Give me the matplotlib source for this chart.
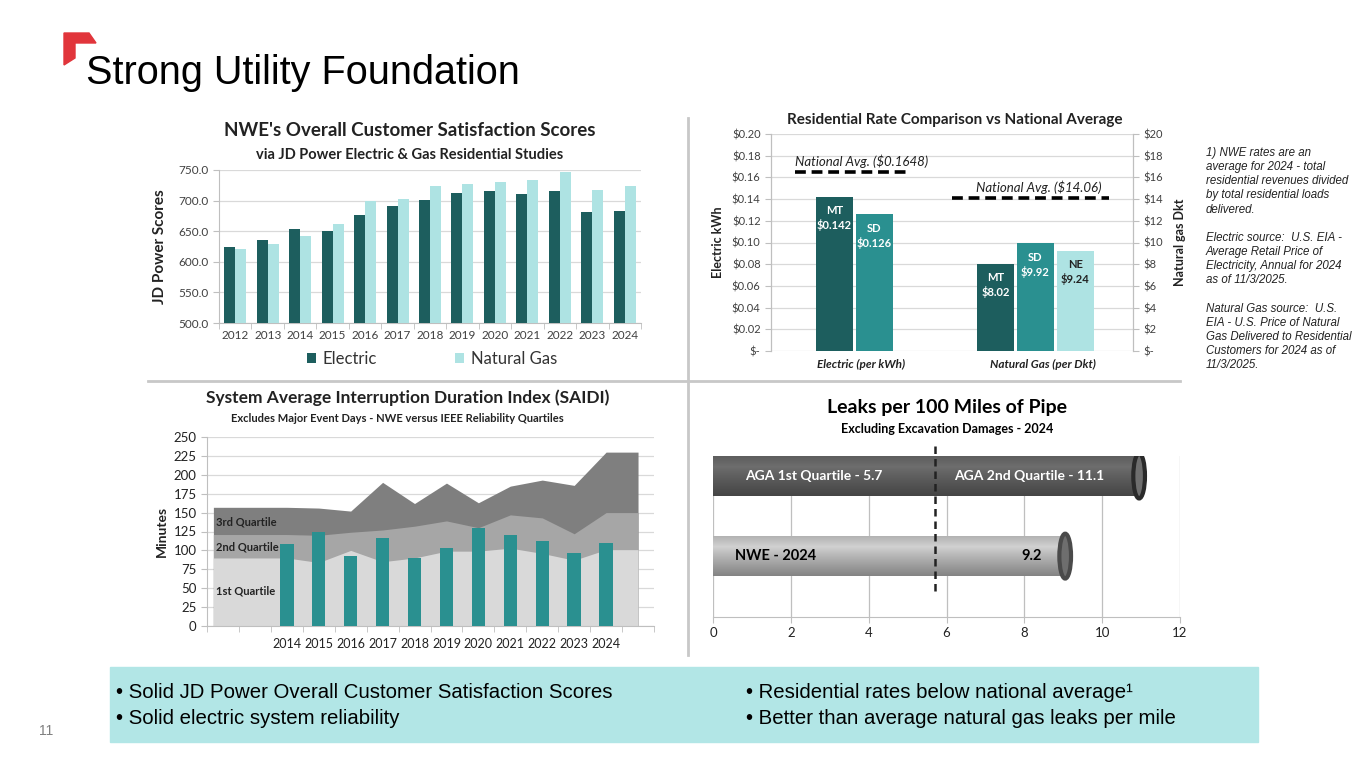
import numpy as np
import matplotlib
matplotlib.use('Agg')
import matplotlib.pyplot as plt
from matplotlib.patches import Ellipse, Polygon, Rectangle
from matplotlib.lines import Line2D
from matplotlib.ticker import FuncFormatter, MultipleLocator

W, H = 1365, 768

# customer satisfaction (JD Power)
cs_years = ['2012', '2013', '2014', '2015', '2016', '2017', '2018',
            '2019', '2020', '2021', '2022', '2023', '2024']
cs_electric = [625, 636, 654, 650, 677, 691, 701, 713, 715, 711, 716, 682, 683]
cs_gas = [621, 629, 642, 661, 700, 703, 724, 727, 730, 734, 747, 717, 724]

# residential rates
rate_cats = ['Electric (per kWh)', 'Natural Gas (per Dkt)']
elec_states = ['MT', 'SD']
elec_rates = [0.142, 0.126]
gas_states = ['MT', 'SD', 'NE']
gas_rates = [8.02, 9.92, 9.24]
nat_avg_elec = 0.1648
nat_avg_gas = 14.06

# SAIDI
saidi_labels = ['', '', '2014', '2015', '2016', '2017', '2018', '2019',
                '2020', '2021', '2022', '2023', '2024', '']
q1_top = [90, 90, 90, 84, 100, 85, 90, 99, 99, 103, 96, 87, 101, 101]
q2_top = [121, 121, 121, 120, 124, 127, 132, 139, 130, 147, 143, 122, 150, 150]
q3_top = [157, 157, 157, 156, 152, 190, 162, 189, 163, 185, 193, 186, 230, 230]
nwe_years = ['2014', '2015', '2016', '2017', '2018', '2019', '2020',
             '2021', '2022', '2023', '2024']
nwe_saidi = [109, 124, 93, 117, 90, 103, 129, 121, 112, 97, 110]

# leaks per 100 miles
leak_names = ['NWE - 2024', 'AGA 2nd Quartile - 11.1']
leak_values = [9.2, 11.1]
aga_q1 = 5.7

DARK = '#1d5e5e'
TEAL = '#2a9090'
LIGHT = '#aee3e3'
GRID = '#d9d9d9'
TXT = '#404040'

plt.rcParams['font.family'] = ['Lato', 'DejaVu Sans']
ARIAL = ['Liberation Sans', 'DejaVu Sans']


def box(l, t, r, b):
    return [l / W, 1 - b / H, (r - l) / W, (b - t) / H]


def ftext(x, y, s, **kw):
    fig.text(x / W, 1 - y / H, s, **kw)


fig = plt.figure(figsize=(W / 100, H / 100), dpi=100)

# ---- header ----
logo = Polygon([(64, 33), (89, 33), (96, 43), (75, 43), (75, 58), (64, 65)],
               closed=True, color='#e1353b')
logo.set_xy([(x / W, 1 - y / H) for x, y in logo.get_xy()])
logo.set_transform(fig.transFigure)
fig.patches.append(logo)
ftext(86, 73, 'Strong Utility Foundation', family=ARIAL, fontsize=28.5,
      va='center', ha='left', color='black')

# dividers
fig.add_artist(Line2D([688 / W, 688 / W], [1 - 118 / H, 1 - 655 / H],
                      transform=fig.transFigure, color='#c8c8c8', lw=2))
fig.add_artist(Line2D([148 / W, 1180 / W], [1 - 381 / H, 1 - 381 / H],
                      transform=fig.transFigure, color='#c8c8c8', lw=2))

# ---- customer satisfaction ----
ax1 = fig.add_axes(box(219, 170, 641, 323))
x = np.arange(len(cs_years))
bw = 0.34
ax1.bar(x - bw / 2, cs_electric, bw, color=DARK, label='Electric', zorder=3)
ax1.bar(x + bw / 2, cs_gas, bw, color=LIGHT, label='Natural Gas', zorder=3)
ax1.set_ylim(500, 750)
ax1.set_xlim(-0.5, len(cs_years) - 0.5)
ax1.yaxis.set_major_locator(MultipleLocator(50))
ax1.yaxis.set_major_formatter(FuncFormatter(lambda v, p: f'{v:.1f}'))
ax1.set_xticks(x)
ax1.set_xticklabels(cs_years)
ax1.set_xticks(np.arange(-0.5, len(cs_years), 1), minor=True)
ax1.tick_params(axis='x', which='major', length=0, labelsize=8.5, colors=TXT, pad=5)
ax1.tick_params(axis='x', which='minor', length=4, color='#bfbfbf')
ax1.tick_params(axis='y', length=4, color='#bfbfbf', labelsize=8.5, labelcolor=TXT)
ax1.grid(axis='y', color=GRID, lw=0.9, zorder=0)
for s in ['top', 'right']:
    ax1.spines[s].set_visible(False)
for s in ['left', 'bottom']:
    ax1.spines[s].set_color('#bfbfbf')
ax1.set_ylabel('JD Power Scores', fontsize=11, fontweight='bold', color='#222', labelpad=8)
ax1.set_facecolor('none')
fig.legend(*ax1.get_legend_handles_labels(), loc='center',
           bbox_to_anchor=(432 / W, 1 - 359 / H), ncol=2, frameon=False,
           fontsize=12, handlelength=0.55, handleheight=0.55, handletextpad=0.4,
           columnspacing=4.7, labelcolor='#333')
ftext(410, 130, "NWE's Overall Customer Satisfaction Scores", fontsize=13.5,
      fontweight='bold', ha='center', va='center', color='#222')
ftext(410, 155, 'via JD Power Electric & Gas Residential Studies', fontsize=10.5,
      fontweight='bold', ha='center', va='center', color='#222')

# ---- residential rates ----
ax2 = fig.add_axes(box(771, 134, 1133, 351))
ax2r = ax2.twinx()
slot = 0.22
shift = -0.04
for i, (st, v) in enumerate(zip(elec_states, elec_rates)):
    xc = 0 + shift + (i - (len(elec_rates) - 1) / 2) * slot
    ax2.bar(xc, v, 0.205, color=[DARK, TEAL][i], zorder=3)
    ax2.annotate(f'{st}\n${v:.3f}', (xc, v), xytext=(0, -6), textcoords='offset points',
                 ha='center', va='top', fontsize=8, fontweight='bold', color='white',
                 linespacing=1.3)
for i, (st, v) in enumerate(zip(gas_states, gas_rates)):
    xc = 1 + shift + (i - (len(gas_rates) - 1) / 2) * slot
    ax2r.bar(xc, v, 0.205, color=[DARK, TEAL, LIGHT][i], zorder=3)
    ax2r.annotate(f'{st}\n${v:.2f}', (xc, v), xytext=(0, -6), textcoords='offset points',
                  ha='center', va='top', fontsize=8, fontweight='bold',
                  color='#222' if i == 2 else 'white', linespacing=1.3)
ax2.set_xlim(-0.5, 1.5)
ax2.set_ylim(0, 0.20)
ax2r.set_ylim(0, 20)
ax2.yaxis.set_major_locator(MultipleLocator(0.02))
ax2r.yaxis.set_major_locator(MultipleLocator(2))
ax2.yaxis.set_major_formatter(FuncFormatter(lambda v, p: '$-' if abs(v) < 1e-9 else f'${v:.2f}'))
ax2r.yaxis.set_major_formatter(FuncFormatter(lambda v, p: '$-' if abs(v) < 1e-9 else f'${v:.0f}'))
ax2.set_xticks([0, 1])
ax2.set_xticklabels(rate_cats, fontsize=8.5, fontweight='bold', style='italic', color='#222')
ax2.tick_params(axis='x', length=0, pad=6)
ax2.tick_params(axis='y', length=4, color='#bfbfbf', labelsize=8, labelcolor=TXT)
ax2r.tick_params(axis='y', length=4, color='#bfbfbf', labelsize=8, labelcolor=TXT)
ax2.grid(axis='y', color=GRID, lw=0.9, zorder=0)
for a in (ax2, ax2r):
    a.spines['top'].set_visible(False)
    a.spines['bottom'].set_visible(False)
    a.spines['left'].set_color('#bfbfbf')
    a.spines['right'].set_color('#bfbfbf')
ax2.set_ylabel('Electric kWh', fontsize=9, fontweight='bold', color='#222', labelpad=6)
ax2r.set_ylabel('Natural gas Dkt', fontsize=9, fontweight='bold', color='#222', labelpad=8)
ax2.plot([-0.37, 0.27], [nat_avg_elec] * 2, color='black', lw=2.6, ls=(0, (3, 1.6)), zorder=4)
ax2.text(-0.37, nat_avg_elec + 0.004, 'National Avg. ($0.1648)', fontsize=9.5,
         style='italic', color='#222', va='bottom', ha='left')
ax2r.plot([0.50, 1.37], [nat_avg_gas] * 2, color='black', lw=2.6, ls=(0, (3, 1.6)), zorder=4)
ax2r.text(0.63, nat_avg_gas + 0.4, 'National Avg. ($14.06)', fontsize=9.5,
          style='italic', color='#222', va='bottom', ha='left')
ftext(955, 120, 'Residential Rate Comparison vs National Average', fontsize=11,
      fontweight='bold', ha='center', va='center', color='#222')

# footnote
note = ('1) NWE rates are an\naverage for 2024 - total\nresidential revenues divided\n'
        'by total residential loads\ndelivered.\n\nElectric source:  U.S. EIA -\n'
        'Average Retail Price of\nElectricity, Annual for 2024\nas of 11/3/2025.\n\n'
        'Natural Gas source:  U.S.\nEIA - U.S. Price of Natural\nGas Delivered to Residential\n'
        'Customers for 2024 as of\n11/3/2025.')
ftext(1206, 147, note, family=ARIAL, fontsize=8.3, style='italic', color='#222',
      va='top', ha='left', linespacing=1.24)

# ---- SAIDI ----
ax3 = fig.add_axes(box(207, 437, 654, 626))
xs = np.arange(len(saidi_labels)).astype(float)
xs[0] = -0.3
ax3.fill_between(xs, 0, q3_top, color='#7f7f7f', lw=0, zorder=1)
ax3.fill_between(xs, 0, q2_top, color='#a6a6a6', lw=0, zorder=1)
ax3.fill_between(xs, 0, q1_top, color='#d9d9d9', lw=0, zorder=1)
bx = [saidi_labels.index(y) for y in nwe_years]
ax3.bar(bx, nwe_saidi, 0.42, color=TEAL, zorder=3)
ax3.set_xlim(-0.5, len(saidi_labels) - 0.5)
ax3.set_ylim(0, 250)
ax3.yaxis.set_major_locator(MultipleLocator(25))
ax3.set_xticks(np.arange(len(saidi_labels)))
ax3.set_xticklabels(saidi_labels)
ax3.set_xticks(np.arange(-0.5, len(saidi_labels), 1), minor=True)
ax3.tick_params(axis='x', which='major', length=0, labelsize=9, colors='#222', pad=9)
ax3.tick_params(axis='x', which='minor', length=4, color='#bfbfbf')
ax3.tick_params(axis='y', length=4, color='#bfbfbf', labelsize=9.5, labelcolor='#222')
ax3.grid(axis='y', color=GRID, lw=0.9, zorder=0)
ax3.set_axisbelow(True)
for s in ['top', 'right']:
    ax3.spines[s].set_visible(False)
for s in ['left', 'bottom']:
    ax3.spines[s].set_color('#bfbfbf')
ax3.set_ylabel('Minutes', fontsize=10, fontweight='bold', color='#222', labelpad=4)
for lab, yv in [('3rd Quartile', 138), ('2nd Quartile', 104), ('1st Quartile', 46)]:
    ax3.text(-0.22, yv, lab, fontsize=8, fontweight='bold', color='#222',
             va='center', ha='left', zorder=5)
ftext(408, 398, 'System Average Interruption Duration Index (SAIDI)', fontsize=12.5,
      fontweight='bold', ha='center', va='center', color='#222')
ftext(397, 419, 'Excludes Major Event Days - NWE versus IEEE Reliability Quartiles',
      fontsize=8, fontweight='bold', ha='center', va='center', color='#222')

# ---- leaks ----
ax4 = fig.add_axes(box(713, 456, 1180, 617))
ax4.set_xlim(0, 12)
ax4.set_ylim(-0.76, 1.25)
ax4.xaxis.set_major_locator(MultipleLocator(2))
ax4.grid(axis='x', color='#bfbfbf', lw=0.9, zorder=0)
ax4.set_yticks([])
for s in ['top', 'right', 'left']:
    ax4.spines[s].set_visible(False)
ax4.spines['bottom'].set_color('#bfbfbf')
ax4.tick_params(axis='x', length=4, color='#bfbfbf', labelsize=9.5, labelcolor='#222')
cyl = [('#d2d2d2', '#a8a8a8', '#4a4a4a'), ('#6e6e6e', '#404040', '#2a2a2a')]
for i, (name, v) in enumerate(zip(leak_names, leak_values)):
    cap_w = 0.3
    b = ax4.barh(i, v - cap_w / 2, 0.5, color=cyl[i][1], zorder=3)[0]
    grad = np.linspace(0, 1, 64).reshape(-1, 1)
    shade = 1 - 0.5 * np.abs(grad - 0.28) ** 0.9
    base = np.array(matplotlib.colors.to_rgb(cyl[i][0]))
    img = shade[:, :, None] * base[None, None, :]
    im = ax4.imshow(img, extent=[0, v - cap_w / 2, i - 0.25, i + 0.25],
                    aspect='auto', zorder=3, origin='upper')
    im.set_clip_path(b)
    ax4.add_patch(Ellipse((v - cap_w / 2, i), cap_w, 0.56, facecolor='#6e6e6e',
                          edgecolor=cyl[i][2], lw=3, zorder=4))
ax4.text(0.82, 1, 'AGA 1st Quartile - 5.7', fontsize=10, fontweight='bold',
         color='white', va='center', ha='left', zorder=5)
ax4.text(6.2, 1, leak_names[1], fontsize=10, fontweight='bold',
         color='white', va='center', ha='left', zorder=5)
ax4.text(0.57, 0, leak_names[0], fontsize=10.5, fontweight='bold',
         color='black', va='center', ha='left', zorder=5)
ax4.text(8.45, 0, f'{leak_values[0]}', fontsize=10.5, fontweight='bold',
         color='black', va='center', ha='right', zorder=5)
ax4.plot([aga_q1, aga_q1], [-0.43, 1.4], color='#222', lw=1.8, ls=(0, (3, 2)),
         zorder=6, clip_on=False)
ftext(947, 408, 'Leaks per 100 Miles of Pipe', fontsize=14,
      fontweight='bold', ha='center', va='center', color='black')
ftext(947, 429, 'Excluding Excavation Damages - 2024', fontsize=9,
      fontweight='bold', ha='center', va='center', color='black')

# ---- bottom box ----
fig.patches.append(Rectangle((110 / W, 1 - 742 / H), (1258 - 110) / W, 75 / H,
                             transform=fig.transFigure, color='#b2e6e6', zorder=0))
bullets_left = ['• Solid JD Power Overall Customer Satisfaction Scores',
                '• Solid electric system reliability']
bullets_right = ['• Residential rates below national average¹',
                 '• Better than average natural gas leaks per mile']
for j, (bl, br) in enumerate(zip(bullets_left, bullets_right)):
    ftext(116, 693 + 25 * j, bl, family=ARIAL, fontsize=14.7, va='center', ha='left', color='black')
    ftext(746, 693 + 25 * j, br, family=ARIAL, fontsize=14.7, va='center', ha='left', color='black')
ftext(46, 731, '11', family=ARIAL, fontsize=10, va='center', ha='center', color='#7f7f7f')

fig.savefig('out.png', dpi=100)
